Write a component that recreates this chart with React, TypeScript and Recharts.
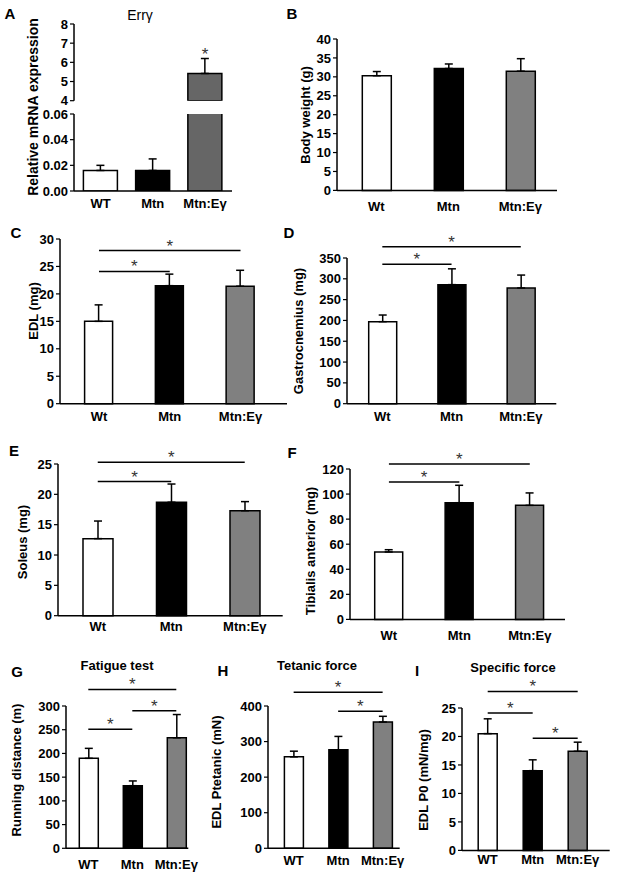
import React from 'react';
import { BarChart, Bar, XAxis, YAxis, ErrorBar, Cell, ReferenceLine, ReferenceDot } from 'recharts';

const FONT = '"Liberation Sans", Arial, sans-serif';

// group names
const groupsUpper = ['WT', 'Mtn', 'Mtn:Eγ'];
const groupsMid = ['Wt', 'Mtn', 'Mtn:Eγ'];

// A - Errγ relative mRNA
const errGamma = [0.016, 0.016, 5.42];
const errGammaSem = [0.004, 0.009, 0.78];
const errGammaStar = 6.2;
const ticksATop = [4, 5, 6, 7, 8];
const ticksABottom = [0, 0.02, 0.04, 0.06];

// B - body weight
const bodyWeight = [30.3, 32.2, 31.5];
const bodyWeightSem = [1.1, 1.2, 3.3];
const ticksB = [0, 5, 10, 15, 20, 25, 30, 35, 40];

// C - EDL
const edl = [15.0, 21.5, 21.4];
const edlSem = [3.0, 2.1, 2.9];
const ticksC = [0, 5, 10, 15, 20, 25, 30];

// D - gastrocnemius
const gastro = [197, 286, 278];
const gastroSem = [16, 38, 31];
const ticksD = [0, 50, 100, 150, 200, 250, 300, 350];

// E - soleus
const soleus = [12.7, 18.7, 17.3];
const soleusSem = [2.9, 3.0, 1.5];
const ticksE = [0, 5, 10, 15, 20, 25];

// F - tibialis anterior
const tibialis = [53.8, 93.1, 91.0];
const tibialisSem = [1.8, 13.9, 9.9];
const ticksF = [0, 20, 40, 60, 80, 100, 120];

// G - fatigue test
const fatigue = [189.7, 132, 233];
const fatigueSem = [21, 10, 49];
const ticksG = [0, 50, 100, 150, 200, 250, 300];

// H - tetanic force
const tetanic = [257, 277, 355];
const tetanicSem = [16, 37.5, 16];
const ticksH = [0, 100, 200, 300, 400];

// I - specific force
const specific = [20.5, 14.0, 17.4];
const specificSem = [2.6, 1.9, 1.6];
const ticksI = [0, 5, 10, 15, 20, 25];

// significance brackets: [from, to, level]
type Bracket = [string, string, number];
const bracketsC: Bracket[] = [['Wt', 'Mtn', 24.1], ['Wt', 'Mtn:Eγ', 27.9]];
const bracketsD: Bracket[] = [['Wt', 'Mtn', 335], ['Wt', 'Mtn:Eγ', 377]];
const bracketsE: Bracket[] = [['Wt', 'Mtn', 22.1], ['Wt', 'Mtn:Eγ', 25.3]];
const bracketsF: Bracket[] = [['Wt', 'Mtn', 109.6], ['Wt', 'Mtn:Eγ', 124]];
const bracketsG: Bracket[] = [['WT', 'Mtn', 250.8], ['Mtn', 'Mtn:Eγ', 290], ['WT', 'Mtn:Eγ', 335]];
const bracketsH: Bracket[] = [['Mtn', 'Mtn:Eγ', 385], ['WT', 'Mtn:Eγ', 439]];
const bracketsI: Bracket[] = [['WT', 'Mtn', 24.1], ['Mtn', 'Mtn:Eγ', 19.7], ['WT', 'Mtn:Eγ', 27.9]];

const fills = ['#ffffff', '#000000', '#808080'];
const fillsA = ['#ffffff', '#000000', '#666666'];

type Row = { name: string; value: number | null; err: number[] | null };

const rows = (names: string[], vals: (number | null)[], sem: (number | null)[]): Row[] =>
  names.map((name, i) => ({
    name,
    value: vals[i],
    err: sem[i] == null ? null : [0, sem[i] as number],
  }));

type PanelProps = {
  data: Row[];
  x0: number;
  x1: number;
  yTop: number;
  yBot: number;
  domain: [number, number];
  ticks: number[];
  padL: number;
  padR: number;
  barSize: number;
  colors: string[];
  brackets?: Bracket[];
  tickMargin?: number;
  hideX?: boolean;
  overflow?: boolean;
  fmt?: (v: number) => string;
  star?: { x: string; y: number };
};

const tickStyle = { fill: '#000', fontSize: 13, fontWeight: 'bold', fontFamily: FONT };
const axisStyle = { stroke: '#000', strokeWidth: 1.5 };
const starStyle = { value: '*', position: 'top', offset: -1, fill: '#333', fontSize: 17, fontFamily: FONT };

function Panel(p: PanelProps) {
  const yw = 50;
  const mt = 50;
  const mr = 24;
  const mb = p.hideX ? 10 : 2;
  const xh = p.hideX ? 0 : 24;
  const left = p.x0 - yw;
  const top = p.yTop - mt;
  const width = p.x1 + mr - left;
  const height = p.yBot + xh + mb - top;
  return (
    <div style={{ position: 'absolute', left, top }}>
      <BarChart width={width} height={height} data={p.data} margin={{ top: mt, right: mr, bottom: mb, left: 0 }}>
        <XAxis
          dataKey="name"
          hide={p.hideX}
          height={24}
          padding={{ left: p.padL, right: p.padR }}
          axisLine={axisStyle}
          tickLine={false}
          tick={tickStyle}
          tickMargin={p.tickMargin ?? 2}
          interval={0}
        />
        <YAxis
          width={yw}
          type="number"
          domain={p.domain}
          ticks={p.ticks}
          allowDataOverflow={!!p.overflow}
          axisLine={axisStyle}
          tickLine={{ stroke: '#000', strokeWidth: 1.2 }}
          tickSize={4}
          tickMargin={2}
          tick={tickStyle}
          tickFormatter={p.fmt}
          interval={0}
        />
        <Bar dataKey="value" barSize={p.barSize} isAnimationActive={false} stroke="#000" strokeWidth={1.5}>
          {p.data.map((d, i) => (
            <Cell key={d.name} fill={p.colors[i]} />
          ))}
          <ErrorBar dataKey="err" width={4} stroke="#000" strokeWidth={1.5} direction="y" />
        </Bar>
        {(p.brackets || []).map(([a, b, y], i) => (
          <ReferenceLine
            key={i}
            segment={[{ x: a, y }, { x: b, y }]}
            stroke="#000"
            strokeWidth={1.5}
            ifOverflow="visible"
            label={starStyle}
          />
        ))}
        {p.star && (
          <ReferenceDot
            x={p.star.x}
            y={p.star.y}
            r={0}
            stroke="none"
            fill="none"
            ifOverflow="visible"
            label={starStyle}
          />
        )}
      </BarChart>
    </div>
  );
}

function VLabel({ cx, cy, text, size = 13 }: { cx: number; cy: number; text: string; size?: number }) {
  return (
    <div
      style={{
        position: 'absolute',
        left: cx,
        top: cy,
        transform: 'translate(-50%, -50%) rotate(-90deg)',
        whiteSpace: 'nowrap',
        fontWeight: 'bold',
        fontSize: size,
        fontFamily: FONT,
        lineHeight: 1,
      }}
    >
      {text}
    </div>
  );
}

function HLabel({ cx, cy, text, size = 13, bold = true }: { cx: number; cy: number; text: string; size?: number; bold?: boolean }) {
  return (
    <div
      style={{
        position: 'absolute',
        left: cx,
        top: cy,
        transform: 'translate(-50%, -50%)',
        whiteSpace: 'nowrap',
        fontWeight: bold ? 'bold' : 'normal',
        fontSize: size,
        fontFamily: FONT,
        lineHeight: 1,
      }}
    >
      {text}
    </div>
  );
}

const fmt2 = (v: number) => v.toFixed(2);

export default function App() {
  const aTop = rows(
    groupsUpper,
    errGamma.map((v) => (v >= 4 ? v : null)),
    errGammaSem.map((s, i) => (errGamma[i] >= 4 ? s : null)),
  );
  const aBottom = rows(
    groupsUpper,
    errGamma,
    errGammaSem.map((s, i) => (errGamma[i] < 4 ? s : null)),
  );
  return (
    <div style={{ position: 'absolute', left: 0, top: 0, width: 617, height: 889, background: '#fff', overflow: 'hidden' }}>
      {/* A */}
      <Panel data={aTop} x0={74} x1={232} yTop={24} yBot={100.7} domain={[4, 8]} ticks={ticksATop} padL={0.4} padR={0.9}
        barSize={34} colors={fillsA} hideX overflow star={{ x: 'Mtn:Eγ', y: errGammaStar }} />
      <Panel data={aBottom} x0={74} x1={232} yTop={114} yBot={191} domain={[0, 0.06]} ticks={ticksABottom} padL={0.4} padR={0.9}
        barSize={34} colors={fillsA} overflow fmt={fmt2} tickMargin={2} />
      {/* B */}
      <Panel data={rows(groupsMid, bodyWeight, bodyWeightSem)} x0={336.7} x1={556.7} yTop={39.3} yBot={190.7} domain={[0, 40]}
        ticks={ticksB} padL={3.3} padR={0.7} barSize={29} colors={fills} tickMargin={5} />
      {/* C */}
      <Panel data={rows(groupsMid, edl, edlSem)} x0={60} x1={287} yTop={239.3} yBot={404} domain={[0, 30]}
        ticks={ticksC} padL={3.6} padR={11.1} barSize={28} colors={fills} brackets={bracketsC} tickMargin={2} />
      {/* D */}
      <Panel data={rows(groupsMid, gastro, gastroSem)} x0={346.7} x1={556} yTop={258.3} yBot={404} domain={[0, 350]}
        ticks={ticksD} padL={0.7} padR={0.9} barSize={28} colors={fills} brackets={bracketsD} tickMargin={2} />
      {/* E */}
      <Panel data={rows(groupsMid, soleus, soleusSem)} x0={58.3} x1={283} yTop={464.3} yBot={616} domain={[0, 25]}
        ticks={ticksE} padL={3} padR={1.2} barSize={30} colors={fills} brackets={bracketsE} tickMargin={0} />
      {/* F */}
      <Panel data={rows(groupsMid, tibialis, tibialisSem)} x0={350} x1={565} yTop={469.3} yBot={619.7} domain={[0, 120]}
        ticks={ticksF} padL={3.7} padR={0} barSize={28} colors={fills} brackets={bracketsF} tickMargin={5} />
      {/* G */}
      <Panel data={rows(groupsUpper, fatigue, fatigueSem)} x0={65.7} x1={188} yTop={706} yBot={848.3} domain={[0, 300]}
        ticks={ticksG} padL={0.3} padR={-10} barSize={19} colors={fills} brackets={bracketsG} tickMargin={5} />
      {/* H */}
      <Panel data={rows(groupsUpper, tetanic, tetanicSem)} x0={268.3} x1={400} yTop={705.7} yBot={848} domain={[0, 400]}
        ticks={ticksH} padL={3.4} padR={-5.2} barSize={19} colors={fills} brackets={bracketsH} tickMargin={1.5} />
      {/* I */}
      <Panel data={rows(groupsUpper, specific, specificSem)} x0={462.3} x1={610} yTop={708.3} yBot={850.7} domain={[0, 25]}
        ticks={ticksI} padL={3.2} padR={9.5} barSize={19} colors={fills} brackets={bracketsI} tickMargin={-2} />

      {/* axis titles */}
      <VLabel cx={33} cy={107} text="Relative mRNA expression" size={14} />
      <VLabel cx={305} cy={115} text="Body weight (g)" />
      <VLabel cx={33} cy={311} text="EDL (mg)" />
      <VLabel cx={298} cy={331} text="Gastrocnemius (mg)" />
      <VLabel cx={22} cy={542} text="Soleus (mg)" />
      <VLabel cx={310} cy={551} text="Tibialis anterior (mg)" />
      <VLabel cx={16} cy={770} text="Running distance (m)" />
      <VLabel cx={216} cy={772} text="EDL Ptetanic (mN)" />
      <VLabel cx={423} cy={780} text="EDL P0 (mN/mg)" />

      {/* panel titles */}
      <HLabel cx={140} cy={15} text="Errγ" bold={false} size={14} />
      <HLabel cx={117} cy={665} text="Fatigue test" />
      <HLabel cx={317} cy={665} text="Tetanic force" />
      <HLabel cx={513} cy={667} text="Specific force" />

      {/* panel letters */}
      <HLabel cx={10} cy={13} text="A" size={15} />
      <HLabel cx={292} cy={13} text="B" size={15} />
      <HLabel cx={16} cy={232} text="C" size={15} />
      <HLabel cx={289} cy={232} text="D" size={15} />
      <HLabel cx={14} cy={450} text="E" size={15} />
      <HLabel cx={292} cy={452} text="F" size={15} />
      <HLabel cx={17} cy={671} text="G" size={15} />
      <HLabel cx={223} cy={670} text="H" size={15} />
      <HLabel cx={417} cy={670} text="I" size={15} />
    </div>
  );
}
